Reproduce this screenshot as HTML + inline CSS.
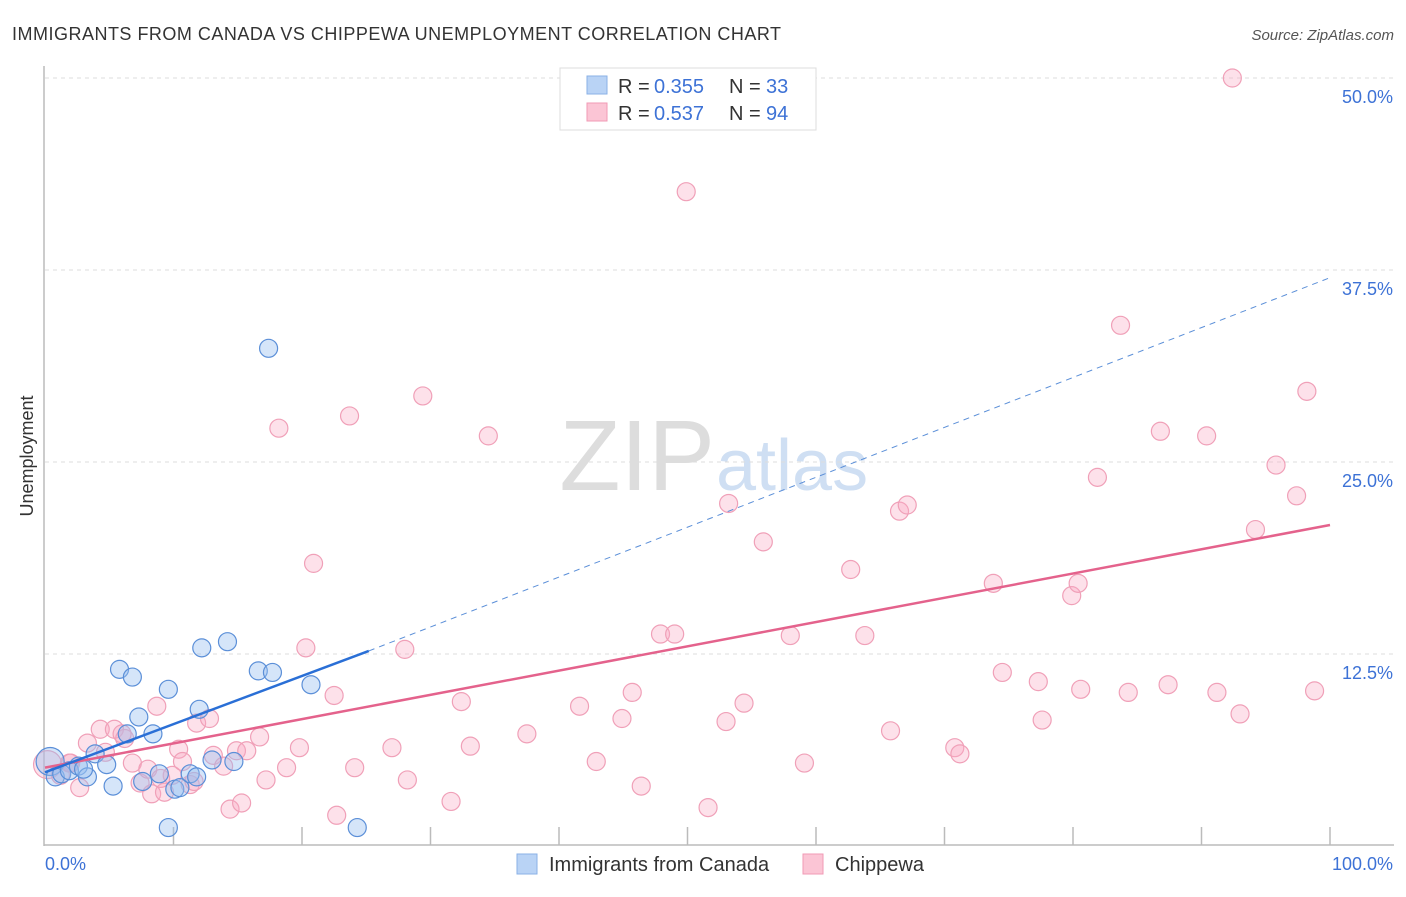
<!DOCTYPE html>
<html><head><meta charset="utf-8"><style>
body{margin:0;background:#fff;font-family:"Liberation Sans",sans-serif;}
svg text{font-family:"Liberation Sans",sans-serif;}
</style></head><body>
<svg id="c" width="1406" height="892" xmlns="http://www.w3.org/2000/svg">
<text x="12" y="40" font-size="18" fill="#333" textLength="769">IMMIGRANTS FROM CANADA VS CHIPPEWA UNEMPLOYMENT CORRELATION CHART</text>
<text x="1394" y="40" font-size="15" fill="#555" font-style="italic" text-anchor="end">Source: ZipAtlas.com</text>
<text x="33" y="456" font-size="18" fill="#333" text-anchor="middle" transform="rotate(-90 33 456)">Unemployment</text>
<text x="715" y="490" font-size="100" fill="#ddd" text-anchor="end" font-family="Liberation Serif">ZIP</text>
<text x="716" y="490" font-size="72" fill="#cfdff3">atlas</text>
<g id="grid"></g><g id="pts"></g><g id="lines"></g>
<g>
<rect x="560" y="68" width="256" height="62" fill="#fff" stroke="#ddd"/>
<rect x="587" y="76" width="20" height="18" fill="#b9d3f5" stroke="#8ab0e6"/>
<rect x="587" y="103" width="20" height="18" fill="#fbc5d5" stroke="#f09ab5"/>
<text x="618" y="93" font-size="20" fill="#333">R =</text><text x="654" y="93" font-size="20" fill="#3d72d6">0.355</text>
<text x="729" y="93" font-size="20" fill="#333">N =</text><text x="766" y="93" font-size="20" fill="#3d72d6">33</text>
<text x="618" y="120" font-size="20" fill="#333">R =</text><text x="654" y="120" font-size="20" fill="#3d72d6">0.537</text>
<text x="729" y="120" font-size="20" fill="#333">N =</text><text x="766" y="120" font-size="20" fill="#3d72d6">94</text>
</g>
<g>
<rect x="517" y="854" width="20" height="20" fill="#b9d3f5" stroke="#8ab0e6"/>
<text x="549" y="871" font-size="20" fill="#333">Immigrants from Canada</text>
<rect x="803" y="854" width="20" height="20" fill="#fbc5d5" stroke="#f09ab5"/>
<text x="835" y="871" font-size="20" fill="#333">Chippewa</text>
</g>
</svg>
<script>
const yTicks=[12.5,25,37.5,50];
const yTickLabels=["12.5%","25.0%","37.5%","50.0%"];
const xLabels=["0.0%","100.0%"];
const blueX=[0.4,0.8,1.3,1.9,2.6,3.3,3.9,4.8,5.3,5.8,6.8,7.3,6.4,8.4,8.9,7.6,9.6,9.6,10.1,10.5,11.3,12.0,12.2,13.0,14.2,14.7,16.6,17.7,17.4,20.7,24.3,11.8,3.0];
const blueY=[5.5,4.5,4.7,4.9,5.2,4.5,6.0,5.3,3.9,11.5,11.0,8.4,7.3,7.3,4.7,4.2,10.2,1.2,3.7,3.8,4.7,8.9,12.9,5.6,13.3,5.5,11.4,11.3,32.4,10.5,1.2,4.5,5.0];
const pinkX=[0.2,1.2,1.9,2.7,3.3,4.3,4.7,5.4,6.2,6.8,7.4,8.0,8.3,8.7,9.3,9.9,10.4,10.7,11.3,11.6,11.8,12.8,13.1,13.9,14.4,14.9,15.3,15.7,16.7,17.2,18.2,18.8,19.8,20.3,20.9,22.5,22.7,23.7,24.1,27.0,28.0,28.2,29.4,31.6,32.4,33.1,34.5,37.5,41.6,42.9,44.9,45.7,46.4,47.9,49.0,49.9,51.6,53.0,53.2,54.4,55.9,58.0,59.1,62.7,63.8,65.8,66.5,67.1,70.8,71.2,73.8,74.5,77.3,77.6,79.9,80.4,80.6,81.9,83.7,84.3,86.8,87.4,90.4,91.2,92.4,93.0,94.2,95.8,97.4,98.2,98.8,6.0,9.0,2.0];
const pinkY=[5.3,4.6,5.4,3.8,6.7,7.6,6.1,7.6,7.0,5.4,4.1,5.0,3.4,9.1,3.5,4.6,6.3,5.5,4.0,4.2,8.0,8.3,5.9,5.2,2.4,6.2,2.8,6.2,7.1,4.3,27.2,5.1,6.4,12.9,18.4,9.8,2.0,28.0,5.1,6.4,12.8,4.3,29.3,2.9,9.4,6.5,26.7,7.3,9.1,5.5,8.3,10.0,3.9,13.8,13.8,42.6,2.5,8.1,22.3,9.3,19.8,13.7,5.4,18.0,13.7,7.5,21.8,22.2,6.4,6.0,17.1,11.3,10.7,8.2,16.3,17.1,10.2,24.0,33.9,10.0,27.0,10.5,26.7,10.0,50.0,8.6,20.6,24.8,22.8,29.6,10.1,7.3,4.4,5.4];
const blueTrend=[[0,4.8],[25.2,12.7]];
const blueDash=[[25.2,12.7],[100,37.0]];
const pinkTrend=[[0,5.1],[100,20.9]];
const X=v=>45+v*12.85, Y=v=>846-v*15.36;
const NS="http://www.w3.org/2000/svg";
const mk=(t,a,p)=>{const e=document.createElementNS(NS,t);for(const k in a)e.setAttribute(k,a[k]);p.appendChild(e);return e;};
const g=document.getElementById('grid');
mk('line',{x1:44,y1:66,x2:44,y2:846,stroke:'#bbb','stroke-width':1.5},g);
mk('line',{x1:44,y1:845,x2:1394,y2:845,stroke:'#bbb','stroke-width':1.5},g);
yTicks.forEach((t,i)=>{
 const l=mk('line',{x1:45,y1:Y(t),x2:1394,y2:Y(t),stroke:'#ddd','stroke-dasharray':'4,4'},g);
 
 
 const tx=mk('text',{x:1393,y:Y(t)+25,'font-size':18,fill:'#3d72d6','text-anchor':'end'},g);
 tx.textContent=yTickLabels[i];
 
 
});
for(let i=1;i<=10;i++){mk('line',{x1:X(i*10),y1:827,x2:X(i*10),y2:845,stroke:'#bbb','stroke-width':1.5},g);}
const xl0=mk('text',{x:45,y:870,'font-size':18,fill:'#3d72d6'},g);xl0.textContent=xLabels[0];


const xl1=mk('text',{x:1393,y:870,'font-size':18,fill:'#3d72d6','text-anchor':'end'},g);xl1.textContent=xLabels[1];


const P=document.getElementById('pts');
pinkX.forEach((x,i)=>{const c=mk('circle',{cx:X(x),cy:Y(pinkY[i]),r:i==0?14:9,fill:'rgba(248,170,195,0.35)',stroke:'#f0a0b8','stroke-width':1.2},P);
 
 });
blueX.forEach((x,i)=>{const c=mk('circle',{cx:X(x),cy:Y(blueY[i]),r:i==0?14:9,fill:'rgba(150,190,240,0.4)',stroke:'#5b8fd8','stroke-width':1.2},P);
 
 });
const L=document.getElementById('lines');
const ln=(p,s,d,n)=>{const e=mk('line',{x1:X(p[0][0]),y1:Y(p[0][1]),x2:X(p[1][0]),y2:Y(p[1][1]),stroke:s,'stroke-width':d?1:2.5},L);if(d)e.setAttribute('stroke-dasharray','6,5');
 
 };
ln(pinkTrend,'#e4628c',false,'trendline-chippewa');
ln(blueTrend,'#2a6fd6',false,'trendline-canada');
ln(blueDash,'#5b8fd8',true,'trendline-canada-extrapolated');
</script>
</body></html>
